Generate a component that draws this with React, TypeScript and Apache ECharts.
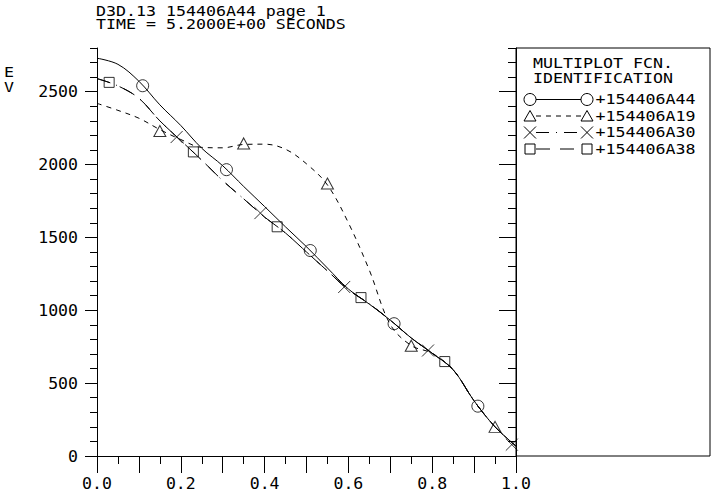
import React, { useEffect, useRef } from 'react';
import * as echarts from 'echarts';

// x positions (normalized radius) of the profile samples
const xs = [0, 0.05, 0.1, 0.15, 0.2, 0.25, 0.3, 0.35, 0.4, 0.45, 0.5, 0.55, 0.6, 0.65, 0.7, 0.75, 0.8, 0.85, 0.9, 0.95, 1.0];

// profile values (eV)
const evA44 = [2730, 2688, 2572, 2410, 2268, 2112, 1992, 1850, 1712, 1572, 1436, 1290, 1146, 1042, 932, 810, 705, 592, 378, 200, 68];
const evA19 = [2420, 2372, 2318, 2240, 2172, 2118, 2115, 2138, 2140, 2105, 2005, 1860, 1600, 1275, 902, 758, 705, 592, 378, 200, 68];
const evA30 = [2590, 2540, 2455, 2300, 2165, 2030, 1890, 1765, 1640, 1530, 1400, 1270, 1142, 1044, 932, 810, 705, 592, 378, 200, 68];
const evA38 = [2590, 2540, 2455, 2300, 2165, 2030, 1890, 1765, 1640, 1530, 1400, 1270, 1142, 1044, 932, 810, 705, 592, 378, 200, 68];

// marker positions
const mkA44x = [0.109, 0.309, 0.509, 0.709, 0.909];
const mkA44y = [2541, 1965, 1410, 908, 342];
const mkA19x = [0.15, 0.35, 0.55, 0.75, 0.95];
const mkA19y = [2230, 2145, 1870, 757, 200];
const mkA30x = [0.19, 0.39, 0.59, 0.79, 0.99];
const mkA30y = [2189, 1667, 1160, 724, 78];
const mkA38x = [0.029, 0.23, 0.43, 0.63, 0.83];
const mkA38y = [2564, 2087, 1573, 1087, 648];

const seriesNames = ['+154406A44', '+154406A19', '+154406A30', '+154406A38'];

// axis ticks / labels
const xLabelValues = [0, 0.2, 0.4, 0.6, 0.8, 1.0];
const yLabelValues = [0, 500, 1000, 1500, 2000, 2500];
const yMinorTicks = [0, 100, 200, 300, 400, 500, 600, 700, 800, 900, 1000, 1100, 1200, 1300, 1400, 1500, 1600, 1700, 1800, 1900, 2000, 2100, 2200, 2300, 2400, 2500, 2600, 2700, 2800];

const titleLines = ['D3D.13 154406A44 page 1', 'TIME = 5.2000E+00 SECONDS'];
const legendTitle = ['MULTIPLOT FCN.', 'IDENTIFICATION'];
const yName = ['E', 'V'];

const FONT = '"DejaVu Sans Mono", "Liberation Mono", monospace';
const AXIS_FS = 16.5;
const TITLE_FS = 13.5;
const LEG_FS = 14;
const BLACK = '#000';

const pair = (a: number[], b: number[]) => a.map((v, i) => [v, b[i]]);

const dashA19 = [5, 5];
const dashA30 = [13, 7, 1, 7];
const dashA38 = [14, 10];

const X_PATH = 'path://M0 0L10 10M10 0L0 10';

export default function App() {
  const ref = useRef<HTMLDivElement>(null);
  useEffect(() => {
    if (!ref.current) return;
    const chart = echarts.init(ref.current, null, { renderer: 'svg' });
    const lineSeries = (name: string, data: number[], type: any) => ({
      type: 'line',
      name,
      data: pair(xs, data),
      smooth: 0.35,
      showSymbol: false,
      symbol: 'none',
      silent: true,
      lineStyle: { color: BLACK, width: 1, type },
      z: 3,
    });
    const markSeries = (name: string, x: number[], y: number[], symbol: string, size: any) => ({
      type: 'scatter',
      name: name + ' markers',
      data: pair(x, y),
      symbol,
      symbolSize: size,
      silent: true,
      itemStyle: { color: 'rgba(0,0,0,0)', borderColor: BLACK, borderWidth: 1 },
      z: 4,
    });
    const txt = (text: string, x: number, y: number, fs: number, sx: number) => ({
      type: 'text',
      x,
      y,
      scaleX: sx,
      style: { text, fill: BLACK, fontFamily: FONT, fontSize: fs, verticalAlign: 'middle', align: 'left' },
    });

    const axisLineStyle = { color: BLACK, width: 1 };
    const baseX = { type: 'value', min: 0, max: 1, interval: 0.1, splitLine: { show: false }, minorSplitLine: { show: false } };
    const baseY = { type: 'value', min: 0, max: 2800, splitLine: { show: false }, minorSplitLine: { show: false } };

    const titleScale = 10 / (0.602 * TITLE_FS);
    const legScale = 10 / (0.602 * LEG_FS);

    // legend graphic
    const lgX1 = 530, lgX2 = 587, lgText = 595.5;
    const rowY = [99.5, 116, 132.5, 149];
    const legendEls: any[] = [];
    const circleAt = (cx: number, cy: number) => ({ type: 'circle', shape: { cx, cy, r: 6 }, style: { fill: 'none', stroke: BLACK, lineWidth: 1 } });
    const triAt = (cx: number, cy: number) => ({ type: 'polygon', shape: { points: [[cx, cy - 5.5], [cx + 6, cy + 5], [cx - 6, cy + 5]] }, style: { fill: 'none', stroke: BLACK, lineWidth: 1 } });
    const xAt = (cx: number, cy: number) => ({ type: 'group', children: [
      { type: 'line', shape: { x1: cx - 6, y1: cy - 6, x2: cx + 6, y2: cy + 6 }, style: { stroke: BLACK, lineWidth: 1 } },
      { type: 'line', shape: { x1: cx + 6, y1: cy - 6, x2: cx - 6, y2: cy + 6 }, style: { stroke: BLACK, lineWidth: 1 } },
    ] });
    const sqAt = (cx: number, cy: number) => ({ type: 'rect', shape: { x: cx - 5, y: cy - 5, width: 10, height: 10 }, style: { fill: 'none', stroke: BLACK, lineWidth: 1 } });
    const markers = [circleAt, triAt, xAt, sqAt];
    const dashes: any[] = [null, dashA19, dashA30, dashA38];
    seriesNames.forEach((nm, i) => {
      const y = rowY[i];
      legendEls.push({ type: 'line', shape: { x1: lgX1 + 6, y1: y, x2: lgX2 - 6, y2: y }, style: { stroke: BLACK, lineWidth: 1, lineDash: dashes[i] || undefined } });
      legendEls.push(markers[i](lgX1, y));
      legendEls.push(markers[i](lgX2, y));
      legendEls.push(txt(nm, lgText, y, LEG_FS, legScale));
    });

    chart.setOption({
      animation: false,
      backgroundColor: '#fff',
      grid: { left: 97, top: 48, width: 419, height: 408, containLabel: false },
      xAxis: [
        {
          ...baseX,
          position: 'bottom',
          axisLine: { show: true, lineStyle: axisLineStyle },
          axisTick: { show: true, length: 16, lineStyle: axisLineStyle },
          minorTick: { show: true, splitNumber: 2, length: 8, lineStyle: axisLineStyle },
          axisLabel: { show: true, customValues: xLabelValues, formatter: (v: number) => v.toFixed(1), margin: 19, color: BLACK, fontFamily: FONT, fontSize: AXIS_FS },
        },
        {
          ...baseX,
          position: 'top',
          axisLine: { show: true, lineStyle: axisLineStyle },
          axisTick: { show: true, inside: true, length: 17, lineStyle: axisLineStyle },
          minorTick: { show: true, splitNumber: 2, length: 8, lineStyle: axisLineStyle },
          axisLabel: { show: false },
        },
      ],
      yAxis: [
        {
          ...baseY,
          position: 'left',
          axisLine: { show: true, lineStyle: axisLineStyle },
          axisTick: { show: true, customValues: yMinorTicks, length: 7, lineStyle: axisLineStyle },
          axisLabel: { show: true, customValues: yLabelValues, formatter: (v: number) => String(v), margin: 19, color: BLACK, fontFamily: FONT, fontSize: AXIS_FS },
        },
        {
          ...baseY,
          position: 'left',
          axisLine: { show: false },
          axisTick: { show: true, customValues: yLabelValues, length: 12, lineStyle: axisLineStyle },
          axisLabel: { show: false },
        },
        {
          ...baseY,
          position: 'right',
          axisLine: { show: true, lineStyle: axisLineStyle },
          axisTick: { show: true, inside: true, customValues: yMinorTicks, length: 8, lineStyle: axisLineStyle },
          axisLabel: { show: false },
        },
        {
          ...baseY,
          position: 'right',
          axisLine: { show: false },
          axisTick: { show: true, inside: true, customValues: yLabelValues, length: 17, lineStyle: axisLineStyle },
          axisLabel: { show: false },
        },
      ],
      graphic: [
        txt(titleLines[0], 96, 11.5, TITLE_FS, titleScale),
        txt(titleLines[1], 96, 25, TITLE_FS, titleScale),
        txt(yName[0], 4, 73, TITLE_FS, titleScale),
        txt(yName[1], 4, 88, TITLE_FS, titleScale),
        { type: 'rect', shape: { x: 516, y: 48, width: 194, height: 408 }, style: { fill: 'none', stroke: BLACK, lineWidth: 1 } },
        txt(legendTitle[0], 533, 63.5, LEG_FS, legScale),
        txt(legendTitle[1], 533, 78.5, LEG_FS, legScale),
        ...legendEls,
      ],
      series: [
        lineSeries(seriesNames[0], evA44, 'solid'),
        lineSeries(seriesNames[1], evA19, dashA19),
        lineSeries(seriesNames[2], evA30, dashA30),
        lineSeries(seriesNames[3], evA38, dashA38),
        markSeries(seriesNames[0], mkA44x, mkA44y, 'circle', 12),
        markSeries(seriesNames[1], mkA19x, mkA19y, 'triangle', [12, 11]),
        markSeries(seriesNames[2], mkA30x, mkA30y, X_PATH, 12),
        markSeries(seriesNames[3], mkA38x, mkA38y, 'rect', 10),
      ],
    });
    return () => chart.dispose();
  }, []);
  return <div ref={ref} style={{ position: 'fixed', left: 0, top: 0, width: 714, height: 492, background: '#fff' }} />;
}
